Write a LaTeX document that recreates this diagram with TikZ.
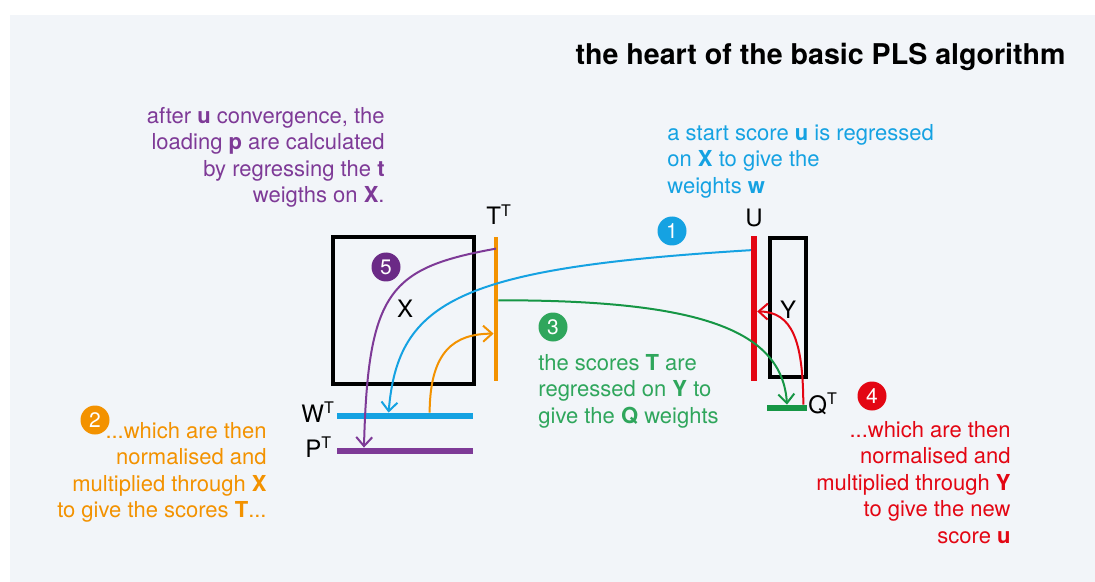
\documentclass[tikz,border=0pt]{standalone}
\usepackage{fontspec}
\setmainfont{TeX Gyre Heros}
\usetikzlibrary{arrows.meta, calc}
\definecolor{plsbg}{HTML}{F2F5F9}
\definecolor{plspurple}{HTML}{7E3A97}
\definecolor{plsdarkpurple}{HTML}{6B2A86}
\definecolor{plsblue}{HTML}{15A2E2}
\definecolor{plsorange}{HTML}{F39200}
\definecolor{plsgreen}{HTML}{2FA65C}
\definecolor{plsgreenline}{HTML}{169645}
\definecolor{plsred}{HTML}{E30613}

\begin{document}
\begin{tikzpicture}[x=0.5pt, y=-0.5pt,
    every node/.style={inner sep=0pt, font=\fontsize{11}{13.2}\selectfont},
    axislabel/.style={font=\fontsize{12}{14}\selectfont},
    numdot/.style={circle, fill=#1, text=white, minimum size=14.5pt, font=\fontsize{10.5}{12}\selectfont},
    conn/.style={line width=1pt, -{Straight Barb[length=4.5pt, width=8pt]}}]
  \useasboundingbox (0,0) rectangle (1095,582);
  \fill[plsbg] (10,15) rectangle (1095,582);

  \node[anchor=north east, font=\bfseries\fontsize{14.3}{17}\selectfont] (title) at (1066,43) {the heart of the basic PLS algorithm};

  % data blocks
  \node[draw, line width=2pt, minimum width=70.5pt, minimum height=73.5pt] (xbox) at (403.5,310.5) {};
  \node[draw, line width=2pt, minimum width=18pt, minimum height=69.5pt] (ybox) at (788,307.5) {};
  \node[axislabel] (xlabel) at (405,308.5) {X};
  \node[axislabel] (ylabel) at (788,310) {Y};

  % score and weight vectors
  \node[fill=plsorange, minimum width=2pt, minimum height=72pt] (tbar) at (496,309) {};
  \node[fill=plsred, minimum width=2.8pt, minimum height=72.5pt] (ubar) at (754,308.5) {};
  \node[fill=plsblue, minimum width=68pt, minimum height=3pt] (wbar) at (405,416) {};
  \node[fill=plspurple, minimum width=68pt, minimum height=3pt] (pbar) at (405,451) {};
  \node[fill=plsgreenline, minimum width=20pt, minimum height=3pt] (qbar) at (787,408) {};
  \node[axislabel, anchor=base west] (tlabel) at (486,225) {T\textsuperscript{T}};
  \node[axislabel, anchor=base] (ulabel) at (754,227) {U};
  \node[axislabel, anchor=base west] (wlabel) at (301,422) {W\textsuperscript{T}};
  \node[axislabel, anchor=base west] (plabel) at (305,457) {P\textsuperscript{T}};
  \node[axislabel, anchor=base west] (qlabel) at (808,413) {Q\textsuperscript{T}};

  % steps
  \draw[conn, plsblue] ($(ubar.north west)!.1!(ubar.south west)$) .. controls (460,268) and (398,300) .. ($(wbar.north west)!.38!(wbar.north east)$);
  \draw[conn, plsorange] ($(wbar.north west)!.68!(wbar.north east)$) .. controls (430,350) and (455,334) .. ($(tbar.north west)!.67!(tbar.south west)$);
  \draw[conn, plsgreenline] ($(tbar.north east)!.44!(tbar.south east)$) .. controls (700,300) and (782,330) .. (qbar.north);
  \draw[conn, plsred] ($(qbar.north west)!.9!(qbar.north east)$) .. controls (803,340) and (792,312) .. ($(ubar.north east)!.52!(ubar.south east)$);
  \draw[conn, plspurple] ($(tbar.north)!.083!(tbar.south)$) .. controls (390,268) and (368,290) .. ($(pbar.north west)!.2!(pbar.north east)$);

  \node[numdot=plsblue] (one) at (672,231) {1};
  \node[numdot=plsorange] (two) at (95,420) {2};
  \node[numdot=plsgreen] (three) at (553,327) {3};
  \node[numdot=plsred] (four) at (872,396) {4};
  \node[numdot=plsdarkpurple] (five) at (386,267) {5};

  % explanations
  \node[anchor=north west, align=left, text=plsblue] (onetext) at (667,124) {a start score \textbf{u} is regressed\\on \textbf{X} to give the\\weights \textbf{w}};
  \node[anchor=north east, align=right, text=plsorange] (twotext) at (267,422) {...which are then\\normalised and\\multiplied through \textbf{X}\\to give the scores \textbf{T}...};
  \node[anchor=north west, align=left, text=plsgreen] (threetext) at (538,354) {the scores \textbf{T} are\\regressed on \textbf{Y} to\\give the \textbf{Q} weights};
  \node[anchor=north east, align=right, text=plsred] (fourtext) at (1011,421) {...which are then\\normalised and\\multiplied through \textbf{Y}\\to give the new\\score \textbf{u}};
  \node[anchor=north east, align=right, text=plspurple] (fivetext) at (385,107) {after \textbf{u} convergence, the\\loading \textbf{p} are calculated\\by regressing the \textbf{t}\\weigths on \textbf{X}.};
\end{tikzpicture}
\end{document}
